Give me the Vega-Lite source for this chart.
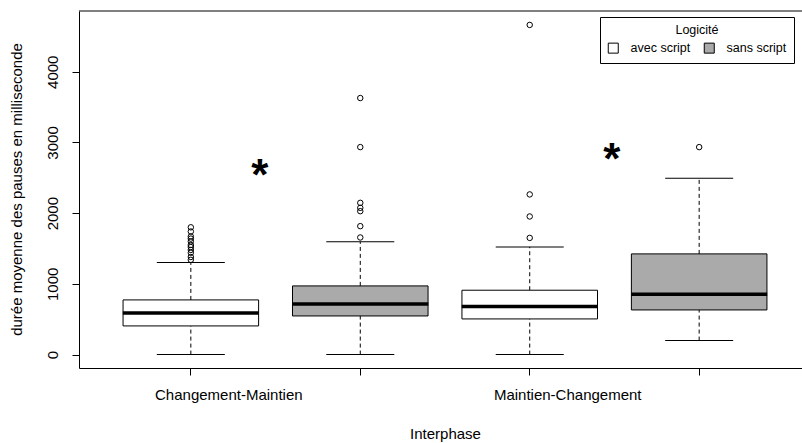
{
  "$schema": "https://vega.github.io/schema/vega-lite/v6.json",
  "width": 723,
  "height": 357,
  "autosize": {"type": "none"},
  "padding": {"left": 79, "top": 11, "right": 0, "bottom": 75},
  "background": "white",
  "config": {
    "view": {"stroke": null},
    "font": "Liberation Sans",
    "axis": {"grid": false, "domainColor": "black", "tickColor": "black", "labelColor": "black", "titleColor": "black", "titleFontWeight": "normal", "labelFontSize": 15, "titleFontSize": 15, "tickSize": 7, "labelFont": "Liberation Sans", "titleFont": "Liberation Sans"}
  },
  "datasets": {
    "boites": [
      {"groupe": "Changement-Maintien | avec script", "interphase": "Changement-Maintien", "logicite": "avec script", "min": 0, "q1": 405, "mediane": 589, "q3": 773, "max": 1302},
      {"groupe": "Changement-Maintien | sans script", "interphase": "Changement-Maintien", "logicite": "sans script", "min": 0, "q1": 546, "mediane": 716, "q3": 971, "max": 1594},
      {"groupe": "Maintien-Changement | avec script", "interphase": "Maintien-Changement", "logicite": "avec script", "min": 0, "q1": 504, "mediane": 679, "q3": 910, "max": 1523},
      {"groupe": "Maintien-Changement | sans script", "interphase": "Maintien-Changement", "logicite": "sans script", "min": 198, "q1": 631, "mediane": 854, "q3": 1424, "max": 2495}
    ],
    "aberrants": [
      {"groupe": "Changement-Maintien | avec script", "valeur": 1800},
      {"groupe": "Changement-Maintien | avec script", "valeur": 1740},
      {"groupe": "Changement-Maintien | avec script", "valeur": 1670},
      {"groupe": "Changement-Maintien | avec script", "valeur": 1640},
      {"groupe": "Changement-Maintien | avec script", "valeur": 1600},
      {"groupe": "Changement-Maintien | avec script", "valeur": 1550},
      {"groupe": "Changement-Maintien | avec script", "valeur": 1520},
      {"groupe": "Changement-Maintien | avec script", "valeur": 1480},
      {"groupe": "Changement-Maintien | avec script", "valeur": 1440},
      {"groupe": "Changement-Maintien | avec script", "valeur": 1380},
      {"groupe": "Changement-Maintien | avec script", "valeur": 1340},
      {"groupe": "Changement-Maintien | sans script", "valeur": 3628},
      {"groupe": "Changement-Maintien | sans script", "valeur": 2934},
      {"groupe": "Changement-Maintien | sans script", "valeur": 2146},
      {"groupe": "Changement-Maintien | sans script", "valeur": 2075},
      {"groupe": "Changement-Maintien | sans script", "valeur": 2028},
      {"groupe": "Changement-Maintien | sans script", "valeur": 1816},
      {"groupe": "Changement-Maintien | sans script", "valeur": 1656},
      {"groupe": "Maintien-Changement | avec script", "valeur": 4662},
      {"groupe": "Maintien-Changement | avec script", "valeur": 2265},
      {"groupe": "Maintien-Changement | avec script", "valeur": 1953},
      {"groupe": "Maintien-Changement | avec script", "valeur": 1650},
      {"groupe": "Maintien-Changement | sans script", "valeur": 2934}
    ],
    "etoiles": [
      {"groupe": "Changement-Maintien | avec script", "interphase": "Changement-Maintien", "valeur": 2620, "texte": "*"},
      {"groupe": "Maintien-Changement | avec script", "interphase": "Maintien-Changement", "valeur": 2850, "texte": "*"}
    ]
  },
  "encoding": {
    "x": {
      "field": "groupe", "type": "nominal",
      "scale": {"type": "band", "domain": ["Changement-Maintien | avec script", "Changement-Maintien | sans script", "Maintien-Changement | avec script", "Maintien-Changement | sans script"], "range": [0, 732], "paddingInner": 0.2, "paddingOuter": 0.26},
      "axis": {"title": "Interphase", "labelAngle": 0, "labelExpr": "indexof(datum.label, 'avec') >= 0 ? replace(datum.label, ' | avec script', '') : ''", "labelOffset": 38, "labelPadding": 12, "labelOverlap": false, "titleX": 366, "titleY": 65, "titleBaseline": "middle", "titleAnchor": null}
    }
  },
  "layer": [
    {
      "data": {"name": "boites"},
      "mark": {"type": "rule", "color": "black", "opacity": 1, "strokeWidth": 1, "strokeDash": [4, 3]},
      "encoding": {
        "y": {"field": "q3", "type": "quantitative", "scale": {"domain": [-190, 4859], "nice": false, "zero": false},
          "axis": {"title": "durée moyenne des pauses en milliseconde", "values": [0, 1000, 2000, 3000, 4000], "format": "d", "labelAngle": 270, "labelAlign": "center", "labelBaseline": "bottom", "labelPadding": 11.5, "titleAngle": 270, "titleX": -63, "titleY": 178, "titleBaseline": "middle", "titleAlign": "center"}},
        "y2": {"field": "max"}
      }
    },
    {
      "data": {"name": "boites"},
      "mark": {"type": "rule", "color": "black", "opacity": 1, "strokeWidth": 1, "strokeDash": [4, 3]},
      "encoding": {"y": {"field": "min", "type": "quantitative"}, "y2": {"field": "q1"}}
    },
    {
      "data": {"name": "boites"},
      "mark": {"type": "tick", "orient": "horizontal", "color": "black", "opacity": 1, "size": 68, "thickness": 1},
      "encoding": {"y": {"field": "max", "type": "quantitative"}}
    },
    {
      "data": {"name": "boites"},
      "mark": {"type": "tick", "orient": "horizontal", "color": "black", "opacity": 1, "size": 68, "thickness": 1},
      "encoding": {"y": {"field": "min", "type": "quantitative"}}
    },
    {
      "data": {"name": "boites"},
      "mark": {"type": "bar", "stroke": "black", "strokeWidth": 1, "opacity": 1},
      "encoding": {
        "y": {"field": "q1", "type": "quantitative"},
        "y2": {"field": "q3"},
        "fill": {"field": "logicite", "type": "nominal",
          "scale": {"domain": ["avec script", "sans script"], "range": ["white", "#AAAAAA"]},
          "legend": {"title": "Logicité", "orient": "none", "legendX": 521, "legendY": 6, "direction": "horizontal", "titleAnchor": "middle", "titleFontSize": 12.5, "titleFontWeight": "normal", "titleFont": "Liberation Sans", "titleColor": "black", "titlePadding": 5, "labelFontSize": 12.5, "labelFont": "Liberation Sans", "labelColor": "black", "labelOffset": 11, "columnPadding": 11, "symbolType": "square", "symbolSize": 100, "symbolStrokeColor": "black", "symbolStrokeWidth": 1, "strokeColor": "black", "padding": 7}}
      }
    },
    {
      "data": {"name": "boites"},
      "mark": {"type": "tick", "orient": "horizontal", "color": "black", "opacity": 1, "size": 136, "thickness": 3.5},
      "encoding": {"y": {"field": "mediane", "type": "quantitative"}}
    },
    {
      "data": {"name": "aberrants"},
      "mark": {"type": "point", "shape": "circle", "filled": false, "stroke": "black", "opacity": 1, "strokeWidth": 1, "size": 30},
      "encoding": {"y": {"field": "valeur", "type": "quantitative"}}
    },
    {
      "data": {"name": "etoiles"},
      "transform": [{"filter": "datum.interphase == 'Changement-Maintien'"}],
      "mark": {"type": "text", "font": "Liberation Sans", "fontWeight": "bold", "fontSize": 44, "color": "black", "baseline": "middle", "align": "center", "dx": 69, "dy": 8},
      "encoding": {"y": {"field": "valeur", "type": "quantitative"}, "text": {"field": "texte"}}
    },
    {
      "data": {"name": "etoiles"},
      "transform": [{"filter": "datum.interphase == 'Maintien-Changement'"}],
      "mark": {"type": "text", "font": "Liberation Sans", "fontWeight": "bold", "fontSize": 44, "color": "black", "baseline": "middle", "align": "center", "dx": 82, "dy": 8},
      "encoding": {"y": {"field": "valeur", "type": "quantitative"}, "text": {"field": "texte"}}
    },
    {
      "data": {"values": [{"cadre": 4859}]},
      "mark": {"type": "rule", "color": "black", "strokeWidth": 1},
      "encoding": {"x": null, "y": {"field": "cadre", "type": "quantitative"}}
    }
  ]
}
